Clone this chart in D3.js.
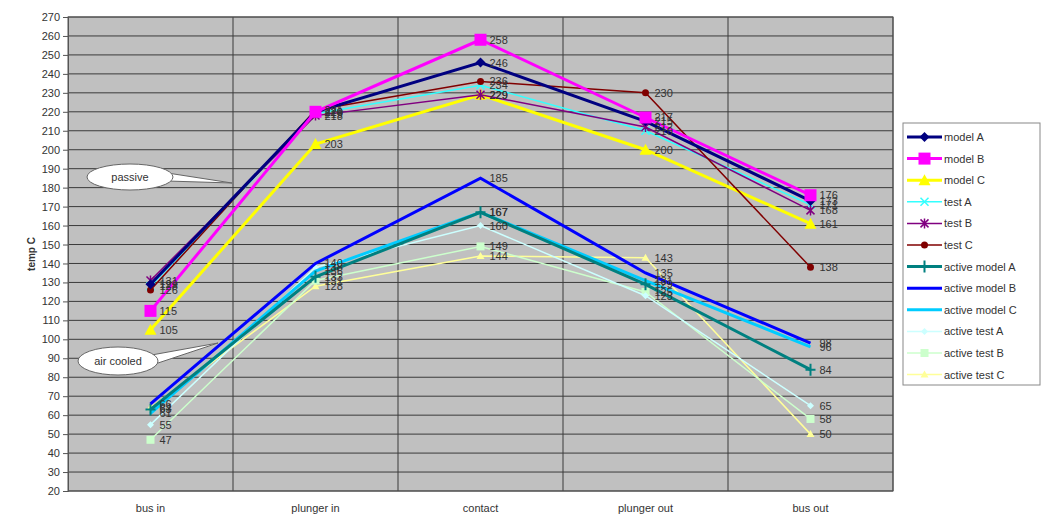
<!DOCTYPE html>
<html><head><meta charset="utf-8">
<script src="https://cdn.jsdelivr.net/npm/d3@7"></script>
<style>body{margin:0;background:#fff;} text{font-family:"Liberation Sans",Arial,sans-serif;}</style>
</head><body><svg id="c" width="1044" height="519"></svg>
<script>
const categories = ["bus in","plunger in","contact","plunger out","bus out"];
const yTicks = d3.range(20, 271, 10);
const seriesNames = ["model A","model B","model C","test A","test B","test C","active model A","active model B","active model C","active test A","active test B","active test C"];
const modelA = [129,220,246,215,173];
const modelB = [115,220,258,217,176];
const modelC = [105,203,229,200,161];
const testA = [128,219,234,210,171];
const testB = [131,218,229,212,168];
const testC = [126,221,236,230,138];
const activeModelA = [63,133,167,129,84];
const activeModelB = [66,140,185,135,98];
const activeModelC = [61,136,167,131,96];
const activeTestA = [55,138,160,123,65];
const activeTestB = [47,131,149,125,58];
const activeTestC = [64,128,144,143,50];
const seriesValues = [modelA,modelB,modelC,testA,testB,testC,activeModelA,activeModelB,activeModelC,activeTestA,activeTestB,activeTestC];
const colors = ["#000080","#ff00ff","#ffff00","#33ffff","#800080","#800000","#008080","#0000ff","#00ccff","#ccffff","#ccffcc","#ffff99"];
const widths = [3,3,3,1.5,1.5,1.5,3,3,3,1.5,1.5,1.5];
const markers = ["diamond","square","triangle","x","star","circle","plus","none","none","diamond","square","triangle"];
const markerScale = [1,1,1,1,1,1,1,1,1,0.7,0.6,0.6];

const svg = d3.select("#c");
const L = 68, R = 893, T = 17, B = 491;
const x = d3.scaleBand().domain(categories).range([L, R]);
const y = d3.scaleLinear().domain([20, 270]).range([B, T]);

svg.append("rect").attr("x", L).attr("y", T).attr("width", R - L).attr("height", B - T).attr("fill", "#c0c0c0");
svg.append("g").selectAll("line").data(yTicks).join("line")
  .attr("x1", L).attr("x2", R).attr("y1", d => y(d)).attr("y2", d => y(d))
  .attr("stroke", "#3a3a3a").attr("stroke-width", 1);
svg.append("g").selectAll("line").data(categories.slice(1).concat(["end"])).join("line")
  .attr("x1", d => d === "end" ? R : x(d)).attr("x2", d => d === "end" ? R : x(d))
  .attr("y1", T).attr("y2", B).attr("stroke", "#3a3a3a").attr("stroke-width", 1);
svg.append("rect").attr("x", L).attr("y", T).attr("width", R - L).attr("height", B - T).attr("fill", "none").attr("stroke", "#555");

const yAxis = d3.axisLeft(y).tickValues(yTicks).tickSize(5).tickPadding(3);
const gy = svg.append("g").attr("transform", `translate(${L},0)`).call(yAxis);
gy.select(".domain").attr("stroke", "#555");
gy.selectAll(".tick line").attr("stroke", "#555");
gy.selectAll("text").attr("font-size", 11).attr("fill", "#333");
const xAxis = d3.axisBottom(x).tickSize(0).tickPadding(13);
const gx = svg.append("g").attr("transform", `translate(0,${B})`).call(xAxis);
gx.select(".domain").remove();
gx.selectAll("text").attr("font-size", 11).attr("fill", "#333");
svg.append("text").attr("transform", `translate(35,${(T + B) / 2}) rotate(-90)`)
  .attr("text-anchor", "middle").attr("font-size", 10).attr("font-weight", "bold").attr("fill", "#333").text("temp C");

function callout(cx, cy, rx, ry, tx, ty, label) {
  const g = svg.append("g");
  g.append("path").attr("d", `M${cx + rx - 12},${cy - 5} L${tx},${ty} L${cx + rx - 6},${cy + 4}`)
    .attr("fill", "#fff").attr("stroke", "#666").attr("stroke-width", 1);
  g.append("ellipse").attr("cx", cx).attr("cy", cy).attr("rx", rx).attr("ry", ry).attr("fill", "#fff").attr("stroke", "#666");
  g.append("text").attr("x", cx).attr("y", cy + 4).attr("text-anchor", "middle").attr("font-size", 11).attr("fill", "#333").text(label);
}
callout(130, 177, 43, 13, 232, 183, "passive");
callout(118, 361, 40, 14, 218, 343, "air cooled");

const line = d3.line().x((d, i) => x(categories[i]) + x.bandwidth() / 2).y(d => y(d));
function drawMarker(g, type, cx, cy, col, sc) {
  const s = 5 * sc;
  if (type === "diamond") g.append("path").attr("d", `M${cx},${cy - s} L${cx + s},${cy} L${cx},${cy + s} L${cx - s},${cy}Z`).attr("fill", col);
  else if (type === "square") g.append("rect").attr("x", cx - s - 1).attr("y", cy - s - 1).attr("width", 2 * s + 2).attr("height", 2 * s + 2).attr("fill", col);
  else if (type === "triangle") g.append("path").attr("d", `M${cx},${cy - s - 1} L${cx + s + 1},${cy + s} L${cx - s - 1},${cy + s}Z`).attr("fill", col);
  else if (type === "circle") g.append("circle").attr("cx", cx).attr("cy", cy).attr("r", 3.5).attr("fill", col);
  else if (type === "x") g.append("path").attr("d", `M${cx - 4},${cy - 4} L${cx + 4},${cy + 4} M${cx - 4},${cy + 4} L${cx + 4},${cy - 4}`).attr("stroke", col).attr("stroke-width", 1.5);
  else if (type === "star") g.append("path").attr("d", `M${cx - 4},${cy - 4} L${cx + 4},${cy + 4} M${cx - 4},${cy + 4} L${cx + 4},${cy - 4} M${cx},${cy - 5} L${cx},${cy + 5}`).attr("stroke", col).attr("stroke-width", 1.5);
  else if (type === "plus") g.append("path").attr("d", `M${cx - 5},${cy} L${cx + 5},${cy} M${cx},${cy - 6} L${cx},${cy + 6}`).attr("stroke", col).attr("stroke-width", 2);
}
const order = [11, 10, 9, 8, 6, 7, 2, 3, 4, 5, 0, 1];
order.forEach(k => {
  const g = svg.append("g");
  g.append("path").attr("d", line(seriesValues[k])).attr("fill", "none").attr("stroke", colors[k]).attr("stroke-width", widths[k]);
  seriesValues[k].forEach((v, i) => drawMarker(g, markers[k], x(categories[i]) + x.bandwidth() / 2, y(v), colors[k], markerScale[k]));
});
order.forEach(k => {
  svg.append("g").selectAll("text").data(seriesValues[k]).join("text")
    .attr("x", (d, i) => x(categories[i]) + x.bandwidth() / 2 + 9)
    .attr("y", d => y(d) + 4).attr("font-size", 11).attr("fill", "#333").text(d => d);
});

const lg = svg.append("g");
lg.append("rect").attr("x", 903).attr("y", 123).attr("width", 137).attr("height", 262).attr("fill", "#fff").attr("stroke", "#888");
seriesNames.forEach((n, k) => {
  const ly = 137 + k * 21.6;
  lg.append("line").attr("x1", 907).attr("x2", 942).attr("y1", ly).attr("y2", ly).attr("stroke", colors[k]).attr("stroke-width", widths[k]);
  drawMarker(lg, markers[k], 924.5, ly, colors[k], markerScale[k]);
  lg.append("text").attr("x", 944).attr("y", ly + 4).attr("font-size", 11).attr("fill", "#333").text(n);
});
</script></body></html>
